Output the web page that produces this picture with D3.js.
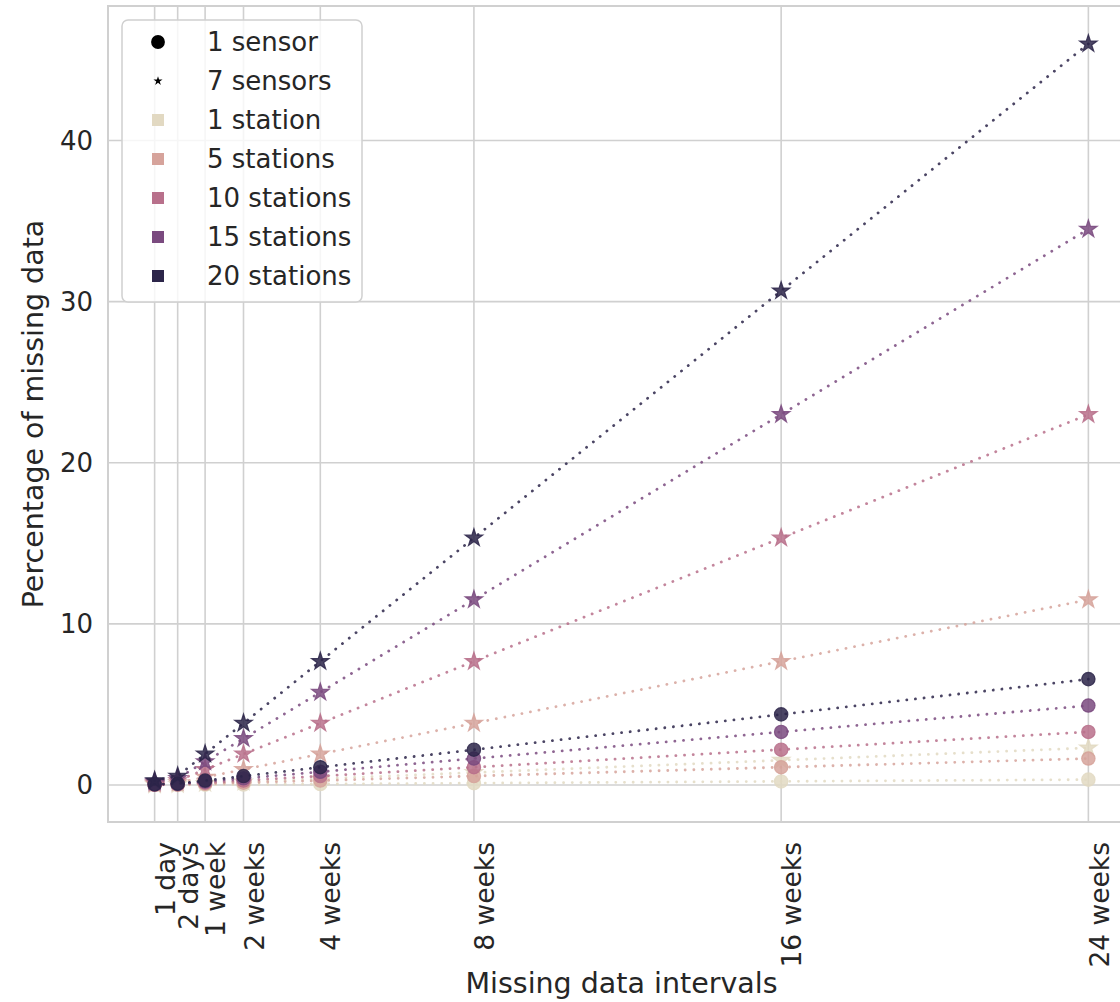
<!DOCTYPE html>
<html>
<head>
<meta charset="utf-8">
<script src="https://cdn.jsdelivr.net/npm/d3@7"></script>
<style>
  body { margin: 0; background: #fff; }
  svg { display: block; font-family: "DejaVu Sans", sans-serif; }
</style>
</head>
<body>
<svg id="chart" width="1120" height="1002"></svg>
<script>
// tick labels and where they sit on the x axis (days; "1 day" is nudged left in the original)
const xLabels = ['1 day', '2 days', '1 week', '2 weeks', '4 weeks', '8 weeks', '16 weeks', '24 weeks'];
const xDays = [-2.2, 2, 7, 14, 28, 56, 112, 168];
const yTicks = [0, 10, 20, 30, 40];

const stationLabels = ['1 station', '5 stations', '10 stations', '15 stations', '20 stations'];
const stationColors = ['#e2d9c2', '#d6a39b', '#b8708b', '#7a4a7f', '#2c2549'];

// percentage of missing data, 1 sensor (circles)
const oneSensor = [
  [0.002, 0.004, 0.014, 0.027, 0.055, 0.11, 0.22, 0.33],
  [0.01, 0.02, 0.07, 0.14, 0.27, 0.55, 1.10, 1.64],
  [0.02, 0.04, 0.14, 0.27, 0.55, 1.10, 2.19, 3.29],
  [0.03, 0.06, 0.21, 0.41, 0.82, 1.64, 3.29, 4.93],
  [0.04, 0.08, 0.27, 0.55, 1.10, 2.19, 4.38, 6.57]
];
// percentage of missing data, 7 sensors (stars)
const sevenSensors = [
  [0.014, 0.027, 0.10, 0.19, 0.38, 0.77, 1.53, 2.30],
  [0.07, 0.14, 0.48, 0.96, 1.92, 3.83, 7.67, 11.5],
  [0.14, 0.27, 0.96, 1.92, 3.83, 7.67, 15.33, 23.0],
  [0.21, 0.41, 1.44, 2.88, 5.75, 11.5, 23.0, 34.5],
  [0.27, 0.55, 1.92, 3.83, 7.67, 15.33, 30.67, 46.0]
];

const svg = d3.select('#chart');
const plotL = 108, plotR = 1135, plotT = 6, plotB = 822;

const x = d3.scaleLinear().domain([-10.7, 176.5]).range([plotL, plotR]);
const y = d3.scaleLinear().domain([-2.3, 48.35]).range([plotB, plotT]);

const grid = '#d0d0d0';
const textColor = '#262626';

// grid
svg.append('g').selectAll('line').data(xDays).join('line')
  .attr('x1', d => x(d)).attr('x2', d => x(d))
  .attr('y1', plotT).attr('y2', plotB)
  .attr('stroke', grid).attr('stroke-width', 1.6);
svg.append('g').selectAll('line').data(yTicks).join('line')
  .attr('x1', plotL).attr('x2', plotR)
  .attr('y1', d => y(d)).attr('y2', d => y(d))
  .attr('stroke', grid).attr('stroke-width', 1.6);

// frame
svg.append('rect')
  .attr('x', plotL).attr('y', plotT)
  .attr('width', plotR - plotL).attr('height', plotB - plotT)
  .attr('fill', 'none').attr('stroke', grid).attr('stroke-width', 2);

// y ticks
svg.append('g').selectAll('text').data(yTicks).join('text')
  .attr('x', plotL - 15).attr('y', d => y(d))
  .attr('dy', '0.36em')
  .attr('text-anchor', 'end')
  .attr('fill', textColor)
  .style('font-size', '26px')
  .text(d => d);

// x ticks, rotated
svg.append('g').selectAll('text').data(xDays).join('text')
  .attr('transform', d => `translate(${x(d)},${plotB + 20}) rotate(-90)`)
  .attr('text-anchor', 'end')
  .attr('dy', '0.76em')
  .attr('fill', textColor)
  .style('font-size', '26.5px')
  .text((d, i) => xLabels[i]);

// axis titles
svg.append('text')
  .attr('x', (plotL + plotR) / 2).attr('y', 993)
  .attr('text-anchor', 'middle')
  .attr('fill', textColor)
  .style('font-size', '28.5px')
  .text('Missing data intervals');
svg.append('text')
  .attr('transform', `translate(43,${(plotT + plotB) / 2}) rotate(-90)`)
  .attr('text-anchor', 'middle')
  .attr('fill', textColor)
  .style('font-size', '28.5px')
  .text('Percentage of missing data');

const line = d3.line().x((d, i) => x(xDays[i])).y(d => y(d));
const circle = d3.symbol().type(d3.symbolCircle).size(140);
const star = d3.symbol().type(d3.symbolStar).size(95);

const plot = svg.append('g');
stationColors.forEach((c, s) => {
  [[oneSensor[s], circle], [sevenSensors[s], star]].forEach(([vals, sym]) => {
    plot.append('path')
      .attr('d', line(vals))
      .attr('fill', 'none')
      .attr('stroke', c)
      .attr('stroke-opacity', 0.85)
      .attr('stroke-width', 2.8)
      .attr('stroke-linecap', 'round')
      .attr('stroke-dasharray', '0.1 8.6');
    plot.append('g').selectAll('path').data(vals).join('path')
      .attr('transform', (d, i) => `translate(${x(xDays[i])},${y(d)})`)
      .attr('d', sym)
      .attr('fill', c).attr('fill-opacity', 0.85)
      .attr('stroke', c).attr('stroke-opacity', 0.85).attr('stroke-width', 1.2);
  });
});

// legend
const lg = svg.append('g');
lg.append('rect')
  .attr('x', 122).attr('y', 20).attr('width', 240).attr('height', 282)
  .attr('rx', 6)
  .attr('fill', '#fff').attr('fill-opacity', 0.8)
  .attr('stroke', grid).attr('stroke-width', 1.5);

const legendItems = [
  { label: '1 sensor', sym: d3.symbol().type(d3.symbolCircle).size(150)(), color: '#000' },
  { label: '7 sensors', sym: d3.symbol().type(d3.symbolStar).size(26)(), color: '#000' }
].concat(stationLabels.map((l, i) => ({
  label: l, sym: d3.symbol().type(d3.symbolSquare).size(144)(), color: stationColors[i]
})));

const rows = lg.selectAll('g.item').data(legendItems).join('g')
  .attr('class', 'item')
  .attr('transform', (d, i) => `translate(158,${42 + i * 39})`);
rows.append('path').attr('d', d => d.sym).attr('fill', d => d.color);
rows.append('text')
  .attr('x', 49).attr('dy', '0.36em')
  .attr('fill', textColor)
  .style('font-size', '26px')
  .text(d => d.label);
</script>
</body>
</html>
